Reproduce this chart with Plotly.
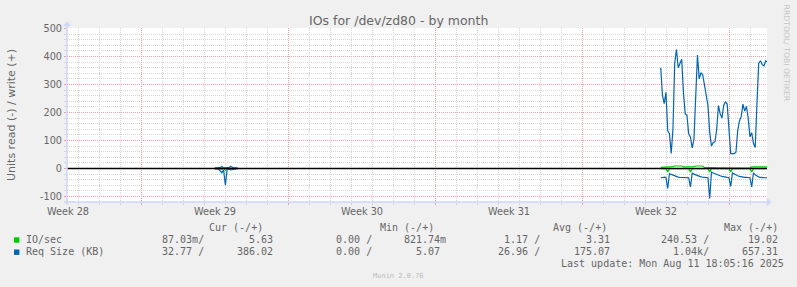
import plotly.graph_objects as go

# ---------------- text ----------------
title_text = "IOs for /dev/zd80 - by month"
y_title = "Units read (-) / write (+)"
week_labels = ["Week 28", "Week 29", "Week 30", "Week 31", "Week 32"]
week_label_days = [-3.5, 3.5, 10.5, 17.5, 24.5]      # mid-week, days since Mon 14 Jul 2025
y_tick_vals = [-100, 0, 100, 200, 300, 400, 500]
y_tick_text = ["-100", "0", "100", "200", "300", "400", "500"]

# ---------------- series (2 h samples, read values are plotted negative) ----------------
step_days = 2 / 24

w29_start = 3.494
w29_req_write = [2, 2, 2, 3, 7, 2, 2, 2, 3, 7, 3, 2, 2, 2]
w29_req_read = [1, 1, 2, 8, 15, 6, 60, 3, 2, 5, 4, 1, 1, 1]
w29_io_write = [0.5, 0.6, 0.5, 0.7, 1.0, 0.6, 0.5, 0.6, 0.7, 1.0, 0.6, 0.5, 0.5, 0.5]
w29_io_read = [0.3, 0.3, 0.4, 1.5, 3, 1, 6, 1, 0.5, 1, 0.8, 0.3, 0.3, 0.3]

w32_start = 24.724
w32_req_write = [360, 262, 232, 272, 135, 124, 54, 140, 375, 425,
                 360, 375, 390, 270, 196, 190, 124, 112, 74, 105,
                 280, 405, 320, 342, 335, 297, 265, 225, 130, 80,
                 93, 95, 140, 225, 195, 180, 225, 238, 230, 145,
                 53, 53, 53, 58, 135, 170, 185, 230, 205, 222,
                 180, 113, 128, 90, 75, 230, 375, 385, 372, 366,
                 384, 380]
w32_req_read = [32, 33, 31, 32, 71, 18, 21, 24, 27, 29,
                31, 32, 32, 32, 32, 33, 33, 66, 17, 20,
                23, 25, 28, 30, 31, 32, 32, 33, 107, 13,
                16, 19, 22, 24, 26, 28, 30, 31, 32, 33,
                64, 16, 20, 23, 26, 28, 30, 31, 32, 32,
                33, 33, 66, 16, 22, 27, 30, 32, 33, 33,
                33, 33]
w32_io_write = [4, 4, 4.5, 6, 6, 5.5, 6, 6.5, 9, 9,
                8.5, 9, 9, 6, 6, 5.5, 6, 6, 6, 6.5,
                9, 9, 9, 8.5, 9, 4, 3.5, 4, 2.5, 2.4,
                2.4, 2.3, 2.5, 2.4, 2.4, 2.3, 2.5, 2.4, 2.4, 2.3,
                2.4, 1.5, 1.5, 1.4, 1.5, 1.6, 1.5, 1.5, 1.4, 1.5,
                1.5, 1.5, 5.5, 5.5, 5.6, 5.5, 5.4, 5.5, 5.5, 5.6,
                5.5, 5.5]
w32_io_read = [0.3, 0.3, 0.3, 0.5, 12, 0.5, 0.3, 0.3, 0.3, 0.3,
               0.3, 0.3, 0.3, 0.3, 0.3, 0.3, 0.5, 12, 0.5, 0.3,
               0.3, 0.3, 0.3, 0.3, 0.3, 0.3, 0.3, 0.5, 12, 0.5,
               0.3, 0.3, 0.3, 0.3, 0.3, 0.3, 0.3, 0.3, 0.3, 0.3,
               12, 0.5, 0.3, 0.3, 0.3, 0.3, 0.3, 0.3, 0.3, 0.3,
               0.3, 0.5, 12, 0.5, 0.3, 0.3, 0.3, 0.3, 0.3, 0.3,
               0.3, 0.3]

# ---------------- legend table ----------------
legend_names = ["IO/sec", "Req Size (KB)"]
legend_colors = ["#00CC00", "#0066B3"]
cur_vals = [["87.03m", "5.63"], ["32.77", "386.02"]]
min_vals = [["0.00", "821.74m"], ["0.00", "5.07"]]
avg_vals = [["1.17", "3.31"], ["26.96", "175.07"]]
max_vals = [["240.53", "19.02"], ["1.04k", "657.31"]]
col_headers = ["Cur (-/+)", "Min (-/+)", "Avg (-/+)", "Max (-/+)"]
last_update = "Last update: Mon Aug 11 18:05:16 2025"
munin_version = "Munin 2.0.76"
watermark = "RRDTOOL/ TOBI OETIKER"

# ---------------- geometry / style ----------------
W, H = 797, 287
L, R, T, B = 67, 30, 28, 85
PW, PH = W - L - R, H - T - B          # 700 x 174
PX_PER_DAY = 21.0
PX_PER_UNIT = 0.28
X_RANGE = [-74.5 / PX_PER_DAY, -74.5 / PX_PER_DAY + PW / PX_PER_DAY]
Y_RANGE = [-(202 - 168.5) / PX_PER_UNIT, (168.5 - 28) / PX_PER_UNIT]
FONT = "DejaVu Sans"
MONO = "DejaVu Sans Mono"
TXT = "#666666"
AXIS_C = "#CFD6F8"
MGRID = "#EBA3A3"
GRID = "#D6D6D6"
DASH = "1px,1px"


def px(x):
    return (x - L) / PW


def py(y):
    return (T + PH - y) / PH


def times(start, n):
    return [start + i * step_days for i in range(n)]


def seg(a29, a32, neg=False):
    s = -1 if neg else 1
    return [s * v for v in a29] + [None] + [s * v for v in a32]


xs = times(w29_start, len(w29_req_write)) + [None] + times(w32_start, len(w32_req_write))

fig = go.Figure()
series = [
    (seg(w29_io_read, w32_io_read, True), legend_colors[0]),
    (seg(w29_io_write, w32_io_write), legend_colors[0]),
    (seg(w29_req_read, w32_req_read, True), legend_colors[1]),
    (seg(w29_req_write, w32_req_write), legend_colors[1]),
]
for ys, c in series:
    fig.add_trace(go.Scatter(x=xs, y=ys, mode="lines", line=dict(color=c, width=1.2),
                             connectgaps=False, showlegend=False, hoverinfo="skip"))

# invisible traces to activate the overlay axes (week labels, weekly grid)
for xa in ("x2", "x3"):
    fig.add_trace(go.Scatter(x=[X_RANGE[0]], y=[0], xaxis=xa, mode="markers",
                             marker=dict(opacity=0), showlegend=False, hoverinfo="skip"))

shapes = []
# zero line
shapes.append(dict(type="line", xref="paper", yref="y", x0=0, x1=1, y0=0, y1=0,
                   line=dict(color="#000000", width=1.4), layer="above"))
# axes with arrows
shapes.append(dict(type="line", xref="paper", yref="paper", x0=px(64), x1=px(768), y0=py(202), y1=py(202),
                   line=dict(color=AXIS_C, width=1.5), layer="above"))
shapes.append(dict(type="path", xref="paper", yref="paper",
                   path=f"M {px(767)} {py(198.5)} L {px(771.5)} {py(202)} L {px(767)} {py(205.5)} Z",
                   fillcolor=AXIS_C, line=dict(color=AXIS_C, width=0.5), layer="above"))
shapes.append(dict(type="line", xref="paper", yref="paper", x0=px(67), x1=px(67), y0=py(205), y1=py(26),
                   line=dict(color=AXIS_C, width=1.5), layer="above"))
shapes.append(dict(type="path", xref="paper", yref="paper",
                   path=f"M {px(63.5)} {py(26)} L {px(67)} {py(21.5)} L {px(70.5)} {py(26)} Z",
                   fillcolor=AXIS_C, line=dict(color=AXIS_C, width=0.5), layer="above"))
# legend colour boxes
box_y = [240.0, 252.2]
for c, yc in zip(legend_colors, box_y):
    shapes.append(dict(type="rect", xref="paper", yref="paper", x0=px(14), x1=px(19.4),
                       y0=py(yc - 2.7), y1=py(yc + 2.7), fillcolor=c, line=dict(width=0)))

ann = []


def text(x, y, s, size, color=TXT, family=MONO, xanchor="left", angle=0):
    ann.append(dict(xref="paper", yref="paper", x=px(x), y=py(y), text=s.replace(" ", "\u00a0"),
                    showarrow=False, xanchor=xanchor, yanchor="middle", textangle=angle,
                    font=dict(family=family, size=size, color=color), borderpad=0, borderwidth=0))


def fmt(v):
    if v[-1].isalpha():
        return v[:-1].rjust(6) + v[-1]
    return v.rjust(6) + " "


text(398.3, 20.0, title_text, 12.5, family=FONT, xanchor="center")
text(11, 115, y_title, 11, family=FONT, xanchor="center", angle=-90)
text(786.7, 53.3, watermark, 7.7, color="#C6C6C6", family=FONT, xanchor="center", angle=90)

header_x = [209.4, 380.2, 552.5, 723.6]
read_x = [156.0, 324.0, 492.2, 661.0]
write_x = [237.0, 404.4, 573.8, 742.2]
for hx, h in zip(header_x, col_headers):
    text(hx, 227.3, h, 10)
row_y = [239.3, 251.0]
for r in range(2):
    text(25.6, row_y[r], legend_names[r], 10)
    for k, vals in enumerate([cur_vals, min_vals, avg_vals, max_vals]):
        text(read_x[k], row_y[r], fmt(vals[r][0]) + "/", 10)
        text(write_x[k], row_y[r], fmt(vals[r][1]), 10)
text(561.0, 263.3, last_update, 10)
text(398.3, 275.9, munin_version, 7, color="#BDBDBD", xanchor="center")

fig.update_layout(
    width=W, height=H, margin=dict(l=L, r=R, t=T, b=B, pad=0), autosize=False,
    paper_bgcolor="#F0F0F0", plot_bgcolor="#FFFFFF", showlegend=False,
    shapes=shapes, annotations=ann,
    # daily grid
    xaxis=dict(range=X_RANGE, tickmode="linear", tick0=0, dtick=1, showticklabels=False,
               showgrid=True, gridcolor=GRID, griddash=DASH, gridwidth=1,
               ticks="outside", ticklen=2, tickcolor=GRID, zeroline=False, showline=False),
    # week labels
    xaxis2=dict(range=X_RANGE, overlaying="x", anchor="y", side="bottom", tickmode="array",
                tickvals=week_label_days, ticktext=week_labels, showgrid=False, zeroline=False,
                showline=False, ticks="", ticklabelstandoff=2,
                tickfont=dict(family=FONT, size=9.72, color=TXT)),
    # weekly grid
    xaxis3=dict(range=X_RANGE, overlaying="x", anchor="y", side="bottom", tickmode="linear",
                tick0=0, dtick=7, showticklabels=False, showgrid=True, gridcolor=MGRID,
                griddash=DASH, gridwidth=1, ticks="outside", ticklen=2, tickcolor=MGRID,
                zeroline=False, showline=False),
    yaxis=dict(range=Y_RANGE, tickmode="array", tickvals=y_tick_vals, ticktext=y_tick_text,
               showgrid=True, gridcolor=MGRID, griddash=DASH, gridwidth=1, zeroline=False,
               showline=False, ticks="outside", ticklen=2, tickcolor=MGRID,
               tickfont=dict(family=FONT, size=9.72, color=TXT),
               minor=dict(tickmode="linear", tick0=0, dtick=20, showgrid=True, gridcolor=GRID,
                          griddash=DASH, ticks="outside", ticklen=2, tickcolor=GRID)),
)

fig.write_html("out.html")
